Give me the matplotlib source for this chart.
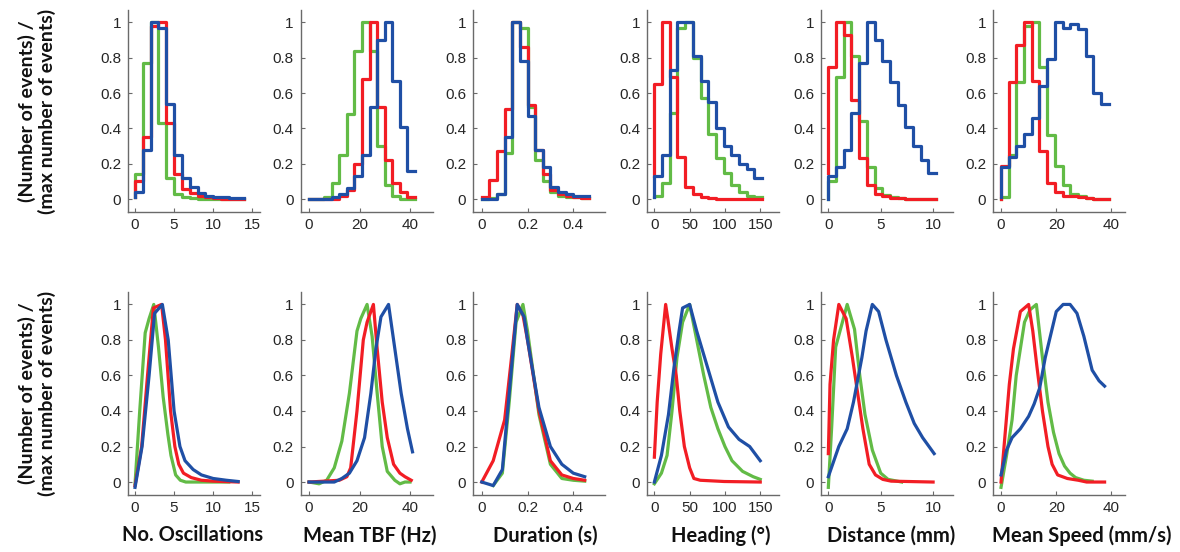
import numpy as np
import matplotlib.pyplot as plt
from matplotlib.ticker import FormatStrFormatter

RED, GREEN, BLUE = "#f21d24", "#62bb46", "#1f4fa5"

xlabels = ["No. Oscillations", "Mean TBF (Hz)", "Duration (s)",
           "Heading (°)", "Distance (mm)", "Mean Speed (mm/s)"]
xticks = [[0, 5, 10, 15], [0, 20, 40], [0, 0.2, 0.4],
          [0, 50, 100, 150], [0, 5, 10], [0, 20, 40]]
xlims = [(-0.9, 16), (-3.3, 49), (-0.037, 0.54),
         (-10, 177), (-0.7, 11.9), (-2.8, 45)]
yticks = [0, 0.2, 0.4, 0.6, 0.8, 1]

# ---- top row: histograms; bin edges, first value = height at x=0 ----
hist_edges = [
    np.arange(0, 15, 1),
    np.linspace(0, 42, 15),
    np.linspace(0, 0.4667, 15),
    np.linspace(0, 152.6, 15),
    np.linspace(0, 10.29, 15),
    np.linspace(0, 39, 15),
]
hist_green = [
    [0.01, 0.14, 0.77, 1.0, 0.43, 0.12, 0.03, 0.012, 0.006, 0.003, 0.002, 0.001, 0, 0, 0],
    [0, 0, 0, 0.01, 0.09, 0.25, 0.48, 0.84, 1.0, 0.84, 0.3, 0.08, 0.015, 0.003, 0],
    [0, 0, 0.005, 0.03, 0.26, 1.0, 0.97, 0.52, 0.22, 0.1, 0.04, 0.02, 0.01, 0.01, 0.005],
    [0.01, 0.015, 0.09, 0.49, 0.97, 1.0, 0.8, 0.57, 0.37, 0.23, 0.15, 0.08, 0.04, 0.02, 0.01],
    [0, 0.1, 0.69, 1.0, 0.81, 0.44, 0.18, 0.06, 0.025, 0.01, 0.005, 0, 0, 0, 0],
    [0, 0.01, 0.25, 0.66, 0.98, 1.0, 0.75, 0.36, 0.19, 0.08, 0.03, 0.015, 0.005, 0, 0],
]
hist_red = [
    [0.01, 0.10, 0.35, 0.98, 1.0, 0.43, 0.14, 0.055, 0.033, 0.015, 0.01, 0.005, 0.003, 0.002, 0.001],
    [0, 0, 0, 0, 0.003, 0.02, 0.05, 0.2, 0.68, 1.0, 0.52, 0.22, 0.09, 0.04, 0.01],
    [0.01, 0.01, 0.11, 0.27, 0.51, 1.0, 0.86, 0.53, 0.28, 0.14, 0.05, 0.03, 0.015, 0.01, 0.008],
    [0.13, 0.65, 1.0, 0.69, 0.24, 0.07, 0.03, 0.012, 0.005, 0.003, 0.002, 0.001, 0, 0, 0],
    [0.15, 0.75, 1.0, 0.93, 0.56, 0.23, 0.08, 0.03, 0.015, 0.008, 0.005, 0.003, 0.002, 0.001, 0],
    [0, 0.19, 0.66, 0.87, 1.0, 0.67, 0.27, 0.09, 0.04, 0.02, 0.015, 0.01, 0.005, 0.002, 0],
]
hist_blue = [
    [0.01, 0.04, 0.28, 1.0, 0.97, 0.54, 0.25, 0.12, 0.07, 0.035, 0.02, 0.01, 0.01, 0.007, 0.005],
    [0, 0, 0, 0, 0.01, 0.03, 0.065, 0.13, 0.25, 0.52, 0.9, 1.0, 0.67, 0.41, 0.16],
    [0, 0, 0, 0.03, 0.35, 1.0, 0.78, 0.47, 0.28, 0.18, 0.07, 0.04, 0.03, 0.02, 0.02],
    [0.01, 0.13, 0.25, 0.73, 1.0, 1.0, 0.81, 0.67, 0.55, 0.4, 0.3, 0.25, 0.2, 0.17, 0.12],
    [0, 0.13, 0.18, 0.28, 0.49, 0.77, 1.0, 0.9, 0.78, 0.66, 0.53, 0.41, 0.3, 0.22, 0.15],
    [0.01, 0.18, 0.24, 0.3, 0.37, 0.46, 0.64, 0.79, 1.0, 0.97, 0.99, 0.96, 0.81, 0.6, 0.54],
]

# ---- bottom row: smoothed distributions ----
osc_green_x = [0, 0.6, 1.3, 1.8, 2.4, 3.0, 3.6, 4.2, 4.6, 5.2, 5.8, 6.5, 8, 10, 12]
osc_green_y = [-0.01, 0.4, 0.84, 0.92, 1.0, 0.76, 0.48, 0.27, 0.15, 0.04, 0.01, 0, 0, 0, 0]
osc_red_x = [0, 0.85, 1.6, 2.35, 3.4, 3.9, 4.55, 5.1, 5.6, 6.2, 7.2, 8.5, 10, 13.2]
osc_red_y = [-0.02, 0.2, 0.6, 0.98, 1.0, 0.8, 0.4, 0.2, 0.1, 0.05, 0.025, 0.01, 0.005, 0]
osc_blue_x = [0, 0.9, 1.8, 2.5, 3.5, 4.25, 5.0, 5.75, 6.4, 7.45, 8.5, 10, 11.7, 13.2]
osc_blue_y = [-0.03, 0.2, 0.6, 0.95, 1.0, 0.8, 0.4, 0.2, 0.12, 0.07, 0.04, 0.02, 0.01, 0.003]

tbf_green_x = [0, 4, 7, 10, 13, 16, 19, 20.5, 23, 25, 27, 29, 31, 34, 36, 38, 40]
tbf_green_y = [0, -0.01, 0.01, 0.08, 0.23, 0.5, 0.85, 0.92, 1.0, 0.82, 0.5, 0.2, 0.06, 0.01, -0.01, 0, 0]
tbf_red_x = [0, 12, 15, 16.5, 19, 21.5, 23, 25.5, 27, 29, 31, 33.5, 36, 38, 40.5]
tbf_red_y = [0, 0.01, 0.03, 0.08, 0.4, 0.8, 0.9, 1.0, 0.75, 0.45, 0.25, 0.1, 0.05, 0.03, 0.01]
tbf_blue_x = [0, 10, 13, 16, 19, 22, 24.5, 26.5, 28.5, 31.5, 34, 36.5, 39, 41]
tbf_blue_y = [0, 0, 0.02, 0.05, 0.12, 0.25, 0.5, 0.75, 0.93, 1.0, 0.75, 0.5, 0.3, 0.17]

dur_green_x = [0.05, 0.09, 0.12, 0.15, 0.18, 0.2, 0.25, 0.3, 0.35, 0.4, 0.45]
dur_green_y = [-0.02, 0.05, 0.45, 0.9, 1.0, 0.85, 0.38, 0.1, 0.02, 0.01, 0.005]
dur_red_x = [0, 0.05, 0.1, 0.13, 0.155, 0.18, 0.2, 0.25, 0.3, 0.35, 0.4, 0.45]
dur_red_y = [0, 0.12, 0.35, 0.7, 1.0, 0.94, 0.8, 0.4, 0.12, 0.04, 0.02, 0.01]
dur_blue_x = [0, 0.05, 0.09, 0.12, 0.155, 0.185, 0.2, 0.25, 0.3, 0.35, 0.4, 0.45]
dur_blue_y = [0, -0.02, 0.07, 0.5, 1.0, 0.93, 0.8, 0.42, 0.2, 0.1, 0.05, 0.03]

head_green_x = [0, 10, 18, 25, 32, 40, 50, 60, 70, 80, 90, 100, 110, 125, 140, 150]
head_green_y = [-0.01, 0.05, 0.15, 0.4, 0.7, 0.9, 1.0, 0.8, 0.6, 0.42, 0.3, 0.2, 0.12, 0.06, 0.03, 0.015]
head_red_x = [0, 4, 9, 13, 16, 19, 25, 31, 36, 42.5, 50, 56, 65, 99, 150]
head_red_y = [0.14, 0.45, 0.72, 0.88, 1.0, 0.92, 0.75, 0.6, 0.4, 0.2, 0.08, 0.02, 0.01, 0.003, 0]
head_blue_x = [0, 10, 20, 28, 35, 40, 50, 60, 75, 90, 105, 120, 135, 150]
head_blue_y = [0, 0.15, 0.38, 0.65, 0.85, 0.98, 1.0, 0.85, 0.65, 0.45, 0.31, 0.24, 0.2, 0.12]

dist_green_x = [0, 0.32, 0.7, 1.8, 2.5, 3.0, 3.5, 4.2, 5.0, 5.7, 7.0]
dist_green_y = [-0.03, 0.31, 0.76, 1.0, 0.86, 0.6, 0.38, 0.18, 0.05, 0.015, 0]
dist_red_x = [0, 0.16, 0.5, 1.0, 1.7, 2.3, 2.8, 3.3, 3.9, 4.5, 5.2, 6, 10]
dist_red_y = [0.16, 0.55, 0.8, 1.0, 0.92, 0.7, 0.5, 0.3, 0.1, 0.04, 0.015, 0.005, 0]
dist_blue_x = [0, 1.0, 1.8, 2.4, 3.2, 3.6, 4.2, 4.8, 5.5, 6.5, 7.4, 8.2, 9.0, 10.1]
dist_blue_y = [0.03, 0.2, 0.3, 0.45, 0.7, 0.85, 1.0, 0.96, 0.8, 0.6, 0.45, 0.33, 0.25, 0.16]

spd_green_x = [0, 2, 4, 5.5, 8.5, 10.5, 12.8, 15, 17, 19, 21, 23, 25, 27, 30, 33]
spd_green_y = [-0.03, 0.15, 0.35, 0.6, 0.9, 0.97, 1.0, 0.7, 0.45, 0.28, 0.16, 0.09, 0.05, 0.025, 0.01, 0.005]
spd_red_x = [0, 3, 4.5, 7, 10, 11.5, 13, 15, 17, 18.5, 20.5, 24, 28, 31, 37.5]
spd_red_y = [0, 0.55, 0.75, 0.96, 1.0, 0.85, 0.65, 0.4, 0.2, 0.1, 0.04, 0.02, 0.01, 0, 0]
spd_blue_x = [0, 2, 4, 7, 10, 12, 14, 16, 18, 20, 22.5, 25, 27.5, 30, 33, 35.5, 37.5]
spd_blue_y = [0.04, 0.18, 0.25, 0.3, 0.37, 0.44, 0.53, 0.7, 0.83, 0.96, 1.0, 1.0, 0.95, 0.82, 0.63, 0.57, 0.54]

curves = [
    [(osc_green_x, osc_green_y), (osc_red_x, osc_red_y), (osc_blue_x, osc_blue_y)],
    [(tbf_green_x, tbf_green_y), (tbf_red_x, tbf_red_y), (tbf_blue_x, tbf_blue_y)],
    [(dur_green_x, dur_green_y), (dur_red_x, dur_red_y), (dur_blue_x, dur_blue_y)],
    [(head_green_x, head_green_y), (head_red_x, head_red_y), (head_blue_x, head_blue_y)],
    [(dist_green_x, dist_green_y), (dist_red_x, dist_red_y), (dist_blue_x, dist_blue_y)],
    [(spd_green_x, spd_green_y), (spd_red_x, spd_red_y), (spd_blue_x, spd_blue_y)],
]

# ---- layout (pixels) ----
W, H = 1180, 552
lefts = [128, 300.7, 473.3, 647.3, 821, 993.3]
ax_w = 132
rows = [(10, 212), (292, 495)]
label_cx = [193, 370, 545, 721, 891, 1082]

fig = plt.figure(figsize=(W / 100, H / 100), dpi=100)
LW = 2.3


def style(ax, i):
    ax.set_xlim(*xlims[i])
    ax.set_ylim(-0.073, 1.07)
    ax.set_xticks(xticks[i])
    ax.set_yticks(yticks)
    ax.xaxis.set_major_formatter(FormatStrFormatter("%g"))
    ax.yaxis.set_major_formatter(FormatStrFormatter("%g"))
    for s in ["top", "right"]:
        ax.spines[s].set_visible(False)
    for s in ["left", "bottom"]:
        ax.spines[s].set_color("#6a6a6a")
        ax.spines[s].set_linewidth(1.0)
    ax.tick_params(direction="in", length=3, width=0.8, color="#6a6a6a",
                   labelsize=11, labelcolor="#262626")
    ax.tick_params(axis="x", pad=4)
    ax.tick_params(axis="y", pad=5)
    for lab in ax.get_xticklabels() + ax.get_yticklabels():
        lab.set_fontfamily("Liberation Sans")
    ax.patch.set_visible(False)


for r, (top, bot) in enumerate(rows):
    for i in range(6):
        ax = fig.add_axes([lefts[i] / W, 1 - bot / H, ax_w / W, (bot - top) / H])
        if r == 0:
            e = hist_edges[i]
            for vals, c in [(hist_green[i], GREEN), (hist_red[i], RED), (hist_blue[i], BLUE)]:
                xs = np.concatenate([[e[0]], e])
                ys = np.concatenate([vals, [vals[-1]]])
                ax.step(xs, ys, where="post", color=c, lw=LW)
        else:
            for (x, y), c in zip(curves[i], [GREEN, RED, BLUE]):
                ax.plot(x, y, color=c, lw=LW)
            ax.set_xlabel(xlabels[i], fontsize=14.5, fontweight="bold",
                          family="Lato", color="#111111")
            ax.xaxis.set_label_coords((label_cx[i] - lefts[i]) / ax_w, -0.15)
        style(ax, i)

    fig.text(37 / W, 1 - (top + bot) / 2 / H,
             "(Number of events) /\n(max number of events)",
             rotation=90, ha="center", va="center", fontsize=14,
             fontweight="bold", family="Lato", color="#111111",
             linespacing=1.1)

plt.savefig("out.png", dpi=100)
